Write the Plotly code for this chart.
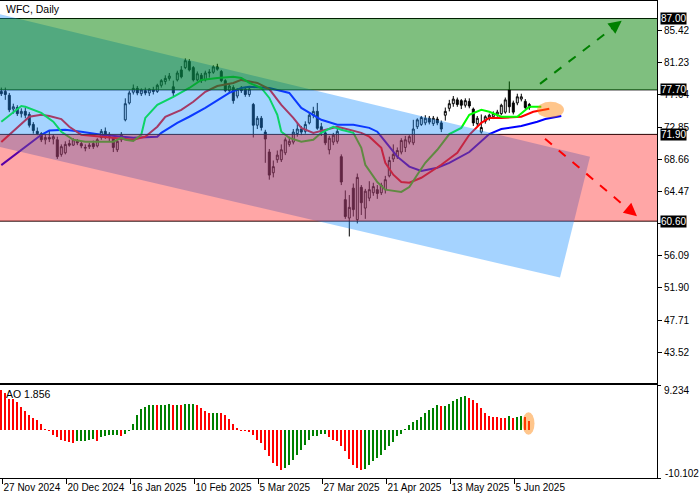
import plotly.graph_objects as go
import pandas as pd

# ---------------- data ----------------
holidays = ["2024-11-28", "2024-12-25", "2025-01-01", "2025-01-09", "2025-01-20",
            "2025-02-17", "2025-04-18", "2025-05-26"]

opens = [77.5, 77.5, 77.0, 75.2, 75.4, 74.6, 74.9, 74.5, 73.2, 72.3,
         72.0, 71.2, 71.5, 71.3, 71.2, 69.3, 69.5, 70.7, 70.5, 71.0,
         70.7, 70.1, 70.3, 70.7, 70.4, 71.5, 72.3, 71.6, 71.4, 69.9,
         71.2, 73.8, 76.0, 77.4, 77.9, 77.2, 77.6, 77.3, 77.7, 77.5,
         78.3, 78.8, 79.2, 78.1, 79.0, 80.3, 80.6, 81.4, 80.6, 79.0,
         79.6, 79.0, 79.9, 80.0, 80.7, 80.1, 78.9, 77.6, 78.0, 76.9,
         77.8, 77.8, 77.1, 75.8, 73.1, 74.0, 72.2, 69.6, 66.9, 68.6,
         68.6, 69.5, 70.6, 70.9, 72.0, 72.6, 72.3, 73.4, 74.4, 74.9,
         72.9, 72.1, 69.9, 70.9, 71.0, 69.0, 63.4, 61.0, 64.9, 60.8,
         65.0, 62.3, 63.6, 64.3, 64.7, 64.3, 64.7, 66.5, 68.7, 69.0,
         69.6, 70.2, 70.9, 70.8, 72.9, 73.2, 73.4, 74.0, 73.3, 73.9,
         73.4, 74.4, 75.3, 75.9, 76.4, 76.3, 75.7, 76.2, 75.2, 73.3,
         72.2, 73.6, 74.0, 74.2, 74.5, 74.6, 74.8, 77.7, 76.0, 76.0,
         76.5, 76.2, 75.8]
highs = [78.0, 78.0, 77.3, 75.9, 75.7, 75.3, 75.4, 74.8, 73.5, 72.8,
         72.2, 71.9, 72.4, 71.9, 71.6, 70.6, 71.0, 71.2, 71.4, 71.3,
         71.0, 70.6, 70.8, 71.1, 71.4, 72.6, 72.8, 72.2, 71.6, 71.2,
         72.2, 76.6, 77.6, 78.4, 78.2, 77.9, 78.0, 77.9, 78.1, 78.5,
         79.1, 79.6, 79.9, 78.9, 80.2, 80.8, 81.8, 81.7, 80.8, 80.1,
         79.9, 80.2, 80.4, 80.9, 81.1, 80.3, 79.1, 78.5, 78.3, 77.9,
         78.2, 78.1, 78.0, 76.0, 74.3, 74.3, 72.5, 70.0, 68.5, 69.8,
         70.6, 71.5, 71.6, 72.6, 73.4, 73.0, 73.6, 74.7, 75.5, 76.0,
         73.4, 72.4, 71.7, 72.1, 72.8, 69.3, 64.6, 64.0, 65.5, 66.8,
         65.3, 64.8, 65.8, 65.6, 65.3, 65.6, 66.5, 69.0, 70.6, 70.2,
         71.4, 71.7, 71.8, 73.8, 74.0, 74.3, 74.4, 74.3, 74.3, 74.2,
         73.7, 75.4, 76.4, 76.9, 76.7, 76.5, 76.6, 76.6, 75.4, 74.3,
         74.5, 74.4, 74.6, 74.9, 75.1, 75.9, 76.7, 78.8, 76.3, 77.2,
         77.2, 76.5, 76.0]
lows = [76.9, 76.4, 74.8, 74.6, 74.3, 74.1, 74.0, 72.8, 72.0, 71.8,
        70.9, 70.6, 70.9, 70.6, 68.7, 69.0, 69.3, 70.3, 70.4, 70.5,
        70.1, 69.7, 70.0, 70.0, 70.2, 71.2, 71.3, 70.9, 69.6, 69.6,
        70.9, 73.6, 75.8, 77.1, 77.0, 76.9, 77.0, 76.9, 77.1, 77.3,
        78.0, 78.4, 78.9, 76.9, 78.8, 79.2, 80.4, 80.1, 78.8, 78.8,
        78.6, 78.8, 79.3, 79.8, 80.2, 78.7, 77.4, 77.3, 75.9, 76.6,
        77.3, 76.8, 76.8, 71.5, 72.6, 72.4, 68.2, 66.0, 66.3, 68.2,
        68.3, 69.2, 70.3, 70.6, 71.6, 71.8, 72.0, 73.2, 74.0, 72.5,
        71.7, 70.5, 69.3, 70.5, 70.7, 65.3, 60.9, 58.6, 61.2, 60.3,
        61.4, 60.9, 63.2, 63.9, 63.5, 64.0, 64.2, 66.3, 68.3, 68.7,
        69.3, 69.6, 70.6, 70.5, 72.6, 73.0, 73.1, 73.2, 73.0, 73.1,
        72.2, 73.7, 74.9, 75.5, 75.5, 75.2, 75.4, 75.3, 73.0, 72.9,
        72.0, 73.3, 73.7, 73.9, 74.2, 74.4, 74.6, 74.7, 74.5, 75.7,
        76.2, 75.2, 75.1]
closes = [77.2, 77.1, 75.1, 75.5, 74.6, 74.9, 74.4, 73.1, 72.4, 72.0,
          71.2, 71.5, 71.3, 71.6, 69.0, 70.3, 70.6, 70.5, 71.2, 70.8,
          70.4, 70.2, 70.5, 70.3, 71.2, 72.3, 71.6, 71.9, 70.2, 71.0,
          71.9, 75.9, 77.3, 77.9, 77.3, 77.7, 77.3, 77.8, 77.5, 78.3,
          78.9, 79.2, 79.5, 77.3, 79.9, 79.4, 81.5, 80.3, 79.0, 79.8,
          78.9, 79.9, 80.0, 80.7, 80.4, 78.9, 77.6, 78.2, 76.3, 77.8,
          77.6, 77.1, 77.8, 73.1, 74.0, 72.8, 71.3, 66.6, 67.7, 69.2,
          69.9, 71.2, 71.0, 72.2, 72.6, 72.2, 73.2, 74.4, 74.9, 72.7,
          72.2, 70.8, 71.4, 71.8, 72.3, 65.7, 61.2, 62.4, 62.1, 66.3,
          63.0, 64.5, 64.7, 65.1, 64.2, 65.3, 66.0, 68.5, 69.3, 69.8,
          71.1, 71.2, 71.6, 72.6, 73.8, 74.1, 74.0, 73.5, 74.0, 73.4,
          72.6, 74.9, 75.9, 76.5, 75.8, 75.7, 76.3, 75.6, 73.4, 74.0,
          72.8, 74.2, 74.4, 74.6, 74.8, 75.7, 76.4, 75.5, 74.8, 76.8,
          76.8, 75.4, 75.4]

# Alligator lines, read at selected bars (bar index, price)
jaw_bars = [0, 10, 12, 16, 20, 25, 33, 39, 40, 44, 47, 51, 55, 57, 60, 62, 67, 72, 75, 80,
            84, 88, 92, 94, 96, 99, 102, 105, 109, 112, 117, 122, 125, 130, 134, 136, 140]
jaw_vals = [67.9, 71.85, 72.4, 72.5, 72.25, 71.85, 71.45, 71.6, 72.1, 73.4, 74.2, 75.35, 76.65,
            77.3, 77.95, 78.1, 77.95, 77.3, 75.35, 73.8, 73.15, 73.15, 72.75, 72.25, 70.95, 69.0,
            67.7, 67.15, 67.55, 68.2, 69.6, 71.95, 72.6, 73.0, 73.55, 73.9, 74.3]
teeth_bars = [0, 7, 10, 12, 15, 17, 20, 25, 29, 33, 36, 39, 41, 45, 48, 51, 54, 58, 60, 64,
              67, 70, 73, 75, 78, 81, 84, 87, 90, 92, 95, 96, 98, 100, 102, 105, 107, 110, 114,
              117, 120, 122, 125, 130, 133, 137]
teeth_vals = [70.9, 74.2, 74.45, 74.3, 73.9, 72.9, 71.85, 71.6, 71.45, 71.2, 71.6, 72.9, 74.2,
              75.1, 76.15, 77.45, 78.2, 78.6, 79.0, 78.6, 77.8, 75.75, 74.05, 72.75, 72.1, 72.5,
              72.9, 72.5, 72.1, 71.6, 70.15, 68.2, 66.65, 65.7, 65.6, 66.25, 66.9, 67.95, 69.5,
              71.85, 73.4, 74.05, 74.05, 74.2, 74.85, 75.25]
lips_bars = [0, 3, 5, 6, 8, 10, 13, 15, 18, 21, 25, 28, 30, 31, 33, 35, 36, 39, 43, 47, 50,
             54, 58, 60, 62, 65, 67, 69, 70, 72, 75, 78, 80, 83, 85, 88, 90, 91, 94, 96, 100,
             102, 104, 106, 109, 112, 115, 117, 120, 122, 125, 129, 132, 135]
lips_vals = [73.55, 74.85, 75.6, 75.5, 75.1, 74.7, 73.55, 72.25, 71.2, 70.95, 70.95, 70.95,
             71.45, 71.2, 71.05, 71.85, 74.05, 75.75, 76.8, 77.95, 79.0, 79.25, 79.4, 79.25,
             78.6, 77.95, 76.65, 74.45, 72.25, 71.45, 70.95, 71.2, 72.1, 72.9, 72.5, 72.1,
             70.15, 67.95, 65.7, 64.7, 64.4, 65.05, 66.65, 68.2, 69.9, 71.95, 72.75, 74.45,
             75.1, 74.85, 74.2, 74.2, 75.5, 75.5]

# Awesome Oscillator
ao = [8.1, 7.65, 6.3, 6.25, 5.7, 4.73, 3.83, 2.99, 2.30, 1.88,
      1.18, 0.2, -0.35, -1.04, -1.53, -2.09, -2.44, -2.64, -2.85, -2.44,
      -2.35, -2.30, -2.09, -2.0, -2.3, -1.53, -1.25, -1.18, -1.1, -1.05,
      -1.39, -0.83, -0.2, 1.25, 2.92, 4.17, 4.73, 5.05, 5.12, 5.06,
      5.10, 5.16, 5.22, 5.10, 5.14, 5.08, 5.20, 5.24, 5.26, 5.08,
      4.52, 3.83, 3.48, 3.50, 3.52, 3.45, 2.92, 2.23, 1.25, 0.35,
      -0.2, -0.35, -0.49, -1.18, -2.09, -2.78, -4.17, -5.57, -6.96, -7.65,
      -8.35, -8.0, -7.31, -6.26, -5.22, -4.18, -3.13, -2.09, -1.39, -1.30,
      -1.0, -0.85, -1.53, -2.09, -2.44, -3.48, -4.52, -6.05, -7.31, -8.0,
      -8.35, -8.21, -7.31, -6.61, -5.92, -5.22, -4.31, -3.48, -2.64, -1.39,
      -0.84, 0.14, 1.04, 1.53, 1.88, 2.57, 3.48, 3.97, 4.52, 5.08,
      4.87, 4.90, 5.22, 5.92, 6.40, 6.82, 6.96, 6.61, 6.12, 5.43,
      4.52, 3.48, 2.78, 2.64, 2.57, 2.44, 2.30, 2.78, 2.44, 2.57,
      2.78, 2.70, 1.856]

tick_dates = ["2024-11-27", "2024-12-20", "2025-01-16", "2025-02-10", "2025-03-05",
              "2025-03-27", "2025-04-21", "2025-05-13", "2025-06-05"]
price_ticks = [43.52, 47.71, 51.90, 56.09, 60.28, 64.47, 68.66, 72.85, 77.04, 81.23, 85.42]
hidden_ticks = [60.28]
levels = [87.00, 77.70, 71.90, 60.60]
ao_min, ao_max = -10.102, 9.234

# ---------------- build ----------------
days = pd.bdate_range("2024-11-27", "2025-06-11")
days = [d for d in days if d.strftime("%Y-%m-%d") not in holidays]
N = len(opens)
days = days[:N]
xs = list(range(N))
day_str = [d.strftime("%Y-%m-%d") for d in days]
tickvals = [day_str.index(t) + 0.3 for t in tick_dates]
ticktext = [pd.Timestamp(t).strftime("%-d %b %Y") for t in tick_dates]

FONT = "Liberation Sans"
W, H = 700, 500
px_right = 657
X0, X1 = -0.325, 163.925
main_top, main_bot = 1, 382.7
ao_top, ao_bot = 385, 478.3
Y0, Y1 = 39.55, 89.28

fig = go.Figure()
fig.add_trace(go.Candlestick(
    x=xs, open=opens, high=highs, low=lows, close=closes,
    increasing=dict(line=dict(color="black", width=1), fillcolor="white"),
    decreasing=dict(line=dict(color="black", width=1), fillcolor="black"),
    whiskerwidth=0, showlegend=False, hoverinfo="skip", xaxis="x", yaxis="y"))
for bx, bv, col in [(jaw_bars, jaw_vals, "#0000FF"), (teeth_bars, teeth_vals, "#FF0000"),
                    (lips_bars, lips_vals, "#00FF00")]:
    fig.add_trace(go.Scatter(x=bx, y=bv, mode="lines", line=dict(color=col, width=2),
                             showlegend=False, hoverinfo="skip", xaxis="x", yaxis="y"))

ao_colors = ["#FF0000"] + ["#008000" if ao[i] > ao[i - 1] else "#FF0000" for i in range(1, len(ao))]
fig.add_trace(go.Bar(x=xs, y=ao, marker=dict(color=ao_colors, line=dict(width=0)), width=0.45,
                     showlegend=False, hoverinfo="skip", xaxis="x2", yaxis="y2"))

def px2k(x):
    return (x - 1.3) / 4.0

def py2p(y):
    return 87.0 - (y - 18.56) / 7.685

shapes = []
for lv in levels:
    shapes.append(dict(type="line", xref="x domain", yref="y", x0=0, x1=1, y0=lv, y1=lv,
                       line=dict(color="black", width=1), layer="above"))
# blue channel
ch = [(-10, 12), (590, 157), (560, 278), (-10, 145)]
path = "M " + " L ".join(f"{px2k(a):.3f},{py2p(b):.3f}" for a, b in ch) + " Z"
shapes.append(dict(type="path", xref="x", yref="y", path=path, fillcolor="rgb(30,144,255)",
                   opacity=0.4, line=dict(width=0), layer="above"))
shapes.append(dict(type="rect", xref="x domain", yref="y", x0=0, x1=1, y0=60.60, y1=71.90,
                   fillcolor="rgb(255,0,0)", opacity=0.35, line=dict(width=0), layer="above"))
shapes.append(dict(type="rect", xref="x domain", yref="y", x0=0, x1=1, y0=77.70, y1=87.00,
                   fillcolor="rgb(0,128,0)", opacity=0.5, line=dict(width=0), layer="above"))
# orange highlight
shapes.append(dict(type="circle", xref="x", yref="y", x0=px2k(537), x1=px2k(564),
                   y0=py2p(118), y1=py2p(102), fillcolor="rgb(255,128,0)", opacity=0.45,
                   line=dict(width=0), layer="above"))
shapes.append(dict(type="circle", xref="x2", yref="y2", x0=px2k(522.5), x1=px2k(534.5),
                   y0=-1.1, y1=3.6, fillcolor="rgb(255,128,0)", opacity=0.45,
                   line=dict(width=0), layer="above"))
# dashed arrows
shapes.append(dict(type="line", xref="x", yref="y", x0=px2k(540), y0=py2p(84),
                   x1=px2k(614), y1=py2p(27), line=dict(color="#008000", width=2, dash="dash"),
                   layer="above"))
shapes.append(dict(type="line", xref="x", yref="y", x0=px2k(545), y0=py2p(139),
                   x1=px2k(629), y1=py2p(210), line=dict(color="#FF0000", width=2, dash="dash"),
                   layer="above"))

annotations = []
annotations.append(dict(x=px2k(621.7), y=py2p(20.7), ax=px2k(610), ay=py2p(29.7),
                        xref="x", yref="y", axref="x", ayref="y", text="", showarrow=True,
                        arrowhead=2, arrowsize=1.3, arrowwidth=2, arrowcolor="#008000"))
annotations.append(dict(x=px2k(637), y=py2p(216.5), ax=px2k(626), ay=py2p(207.2),
                        xref="x", yref="y", axref="x", ayref="y", text="", showarrow=True,
                        arrowhead=2, arrowsize=1.3, arrowwidth=2, arrowcolor="#FF0000"))
for lv in levels:
    annotations.append(dict(x=(px_right + 3) / W, y=lv, xref="paper", yref="y", xanchor="left",
                            yanchor="middle", text=f"{lv:.2f}", showarrow=False, bgcolor="black",
                            font=dict(family=FONT, size=10, color="white"), borderpad=0))
annotations.append(dict(x=4 / W, y=1 - 9 / H, xref="paper", yref="paper", xanchor="left",
                        yanchor="middle", text="WFC, Daily", showarrow=False,
                        font=dict(family=FONT, size=10.5, color="black")))
annotations.append(dict(x=4 / W, y=1 - 394 / H, xref="paper", yref="paper", xanchor="left",
                        yanchor="middle", text=f"AO {ao[-1]:.3f}", showarrow=False,
                        font=dict(family=FONT, size=10.5, color="black")))
annotations.append(dict(x=(px_right + 5) / W, y=1 - 390 / H, xref="paper", yref="paper",
                        xanchor="left", yanchor="middle", text=f"{ao_max:.3f}", showarrow=False,
                        font=dict(family=FONT, size=10, color="black")))
annotations.append(dict(x=(px_right + 6) / W, y=1 - 473 / H, xref="paper", yref="paper",
                        xanchor="left", yanchor="middle", text=f"{ao_min:.3f}", showarrow=False,
                        font=dict(family=FONT, size=10, color="black")))

axis_common = dict(showgrid=False, zeroline=False, showline=True, mirror=True,
                   linecolor="black", linewidth=1, automargin=False)
fig.update_layout(
    width=W, height=H, margin=dict(l=0, r=0, t=0, b=0, pad=0, autoexpand=False),
    paper_bgcolor="white", plot_bgcolor="white",
    font=dict(family=FONT, size=10, color="black"),
    showlegend=False, bargap=0, hovermode=False, dragmode=False,
    shapes=shapes, annotations=annotations,
    xaxis=dict(domain=[0, px_right / W], range=[X0, X1], anchor="y", showticklabels=False,
               ticks="", rangeslider=dict(visible=False), **axis_common),
    yaxis=dict(domain=[1 - main_bot / H, 1 - main_top / H], range=[Y0, Y1], side="right",
               anchor="x", tickvals=price_ticks,
               ticktext=["" if v in hidden_ticks else f"{v:.2f}" for v in price_ticks],
               ticks="outside", ticklen=4, tickcolor="black", **axis_common),
    xaxis2=dict(domain=[0, px_right / W], range=[X0, X1], anchor="y2", tickvals=tickvals,
                ticktext=ticktext, ticks="outside", ticklen=5, tickcolor="black", tickangle=0,
                ticklabelposition="outside right", **axis_common),
    yaxis2=dict(domain=[1 - ao_bot / H, 1 - ao_top / H], range=[ao_min, ao_max], side="right",
                anchor="x2", tickvals=[ao_min, ao_max], ticks="outside", ticklen=3,
                tickcolor="black", showticklabels=False, **axis_common),
)
fig.write_html("out.html", config={"displayModeBar": False, "staticPlot": True},
               post_script="document.body.style.margin='0px';")
